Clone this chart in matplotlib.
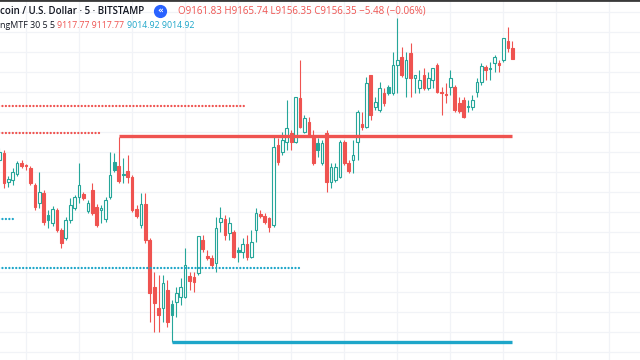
import numpy as np
import matplotlib.pyplot as plt
from matplotlib.lines import Line2D

# 5-minute bars, bar index of the first visible candle
first_bar = -6
opens = [9106, 9109.5, 9095, 9096, 9099, 9104.5, 9103.5, 9102, 9093.5, 9084.5,
         9089.5, 9078.5, 9074.5, 9081, 9071, 9067, 9076, 9082, 9087.5, 9089,
         9080.5, 9091, 9082.5, 9081, 9076.5, 9087.5, 9105, 9103, 9099, 9100.5,
         9097.5, 9081.5, 9073.5, 9084, 9066, 9042.5, 9032, 9032, 9041, 9034,
         9035, 9037.5, 9037.5, 9048, 9047.5, 9049.5, 9066, 9058, 9057, 9054.5,
         9075, 9076.5, 9069.5, 9070, 9061, 9060, 9064, 9057.5, 9071, 9079,
         9078, 9077, 9073.5, 9113.5, 9110, 9115, 9119.5, 9115, 9137, 9120,
         9125, 9117.5, 9114.5, 9104.5, 9119.5, 9095, 9096, 9097.5, 9115, 9104.5,
         9106, 9115, 9124, 9122.5, 9148.5, 9132.5, 9131, 9139.5, 9142.5, 9139.5,
         9153.5, 9157.5, 9147, 9159.5, 9147, 9142, 9148.5, 9142, 9146, 9153.5,
         9140, 9139, 9142.5, 9142.5, 9134.5, 9136, 9133, 9132.5, 9140, 9145,
         9152.5, 9152, 9154.5, 9154.5, 9156, 9165.5, 9161.83]
highs = [9112, 9111, 9098, 9102, 9105.5, 9106, 9104, 9103, 9094.5, 9100,
         9091, 9081, 9083, 9082, 9072, 9077.5, 9087, 9088.5, 9104.5, 9090,
         9086, 9094.5, 9084, 9083.5, 9087.5, 9110, 9109.5, 9117.5, 9107, 9108.5,
         9098.5, 9083.5, 9089.5, 9089.5, 9067, 9050, 9048.5, 9048.5, 9046, 9036,
         9042.5, 9047, 9062, 9050, 9050, 9068, 9068.5, 9061, 9058.5, 9077.5,
         9082.5, 9078.5, 9077.5, 9071, 9062.5, 9067, 9068.5, 9071, 9082, 9081,
         9079.5, 9077.5, 9117.5, 9117, 9120, 9136, 9121, 9137.5, 9156, 9128.5,
         9127.5, 9121, 9117, 9116, 9121, 9104.5, 9104.5, 9116, 9116, 9106,
         9116, 9131, 9130, 9147.5, 9148.5, 9137.5, 9145, 9142, 9143.5, 9160,
         9177, 9162.5, 9160, 9164.5, 9148.5, 9151, 9152, 9150, 9152, 9154.5,
         9142.5, 9144.5, 9151, 9143.5, 9137.5, 9137.5, 9136, 9138.5, 9147, 9154.5,
         9153.5, 9155, 9158.5, 9156, 9167, 9172.5, 9165.74]
lows = [9105, 9092, 9092.5, 9093.5, 9098, 9102, 9101, 9093.5, 9081, 9082,
        9073.5, 9072, 9073, 9070, 9062, 9066, 9074.5, 9081, 9084.5, 9086,
        9079.5, 9078.5, 9072.5, 9074.5, 9075, 9086.5, 9100, 9094.5, 9094.5, 9094.5,
        9080, 9077, 9072, 9064.5, 9025, 9020, 9020, 9025, 9022.5, 9014.92,
        9027.5, 9033.5, 9037, 9041, 9040, 9048.5, 9060, 9056, 9052, 9050,
        9070, 9066, 9066, 9057, 9055, 9057, 9056, 9057, 9065, 9077,
        9074, 9070, 9072.5, 9103.5, 9108.5, 9111, 9111, 9114.5, 9122, 9119.5,
        9117.5, 9103.5, 9107.5, 9103.5, 9090, 9092, 9095, 9097, 9103.5, 9099.5,
        9099.5, 9106, 9121, 9122, 9126, 9131, 9130, 9133, 9138.5, 9138.5,
        9139.5, 9147.5, 9137.5, 9137.5, 9139.5, 9139.5, 9141, 9141, 9142, 9139.5,
        9128.5, 9134.5, 9138.5, 9130, 9129.5, 9127, 9130, 9131, 9137.5, 9143.5,
        9146, 9146, 9150, 9150, 9155, 9160, 9156.35]
closes = [9110, 9094.5, 9096.5, 9100, 9104.5, 9103, 9103, 9094.5, 9082.5, 9090,
          9075, 9076, 9081.5, 9071, 9064.5, 9076, 9083.5, 9087.5, 9093.5, 9087,
          9084.5, 9079.5, 9073.5, 9082, 9086, 9098.5, 9101, 9095.5, 9098.5, 9097.5,
          9081, 9078, 9084, 9066, 9039.5, 9034.5, 9028.5, 9044.5, 9025, 9028.5,
          9039.5, 9042.5, 9053.5, 9045.5, 9045, 9068, 9061.5, 9057, 9053.5, 9072,
          9077, 9068.5, 9074.5, 9057.5, 9060, 9064, 9057.5, 9065, 9079.5, 9078,
          9075, 9072.5, 9112.5, 9105, 9116, 9122, 9115, 9137.5, 9122.5, 9127,
          9118.5, 9104.5, 9111, 9114.5, 9095, 9102.5, 9102.5, 9115, 9104.5, 9100.5,
          9108.5, 9130, 9122.5, 9144.5, 9128.5, 9135, 9142, 9134.5, 9139.5, 9153.5,
          9156, 9148.5, 9156, 9147, 9148.5, 9146, 9142, 9147, 9152, 9140,
          9139.5, 9138.5, 9147, 9131, 9130.5, 9127.5, 9132.5, 9136, 9145, 9153,
          9151, 9151.5, 9157.5, 9153.5, 9167, 9161.83, 9156.35]

# MTF levels: price, first bar, last bar
red_dotted = [(9133, -6, 50), (9119.5, -6, 16.5)]
blue_dotted = [(9076.5, -6, -2.5), (9052, -6, 62)]
red_level = (9117.77, 21, 110)
blue_level = (9014.92, 33, 110)

red = '#ef5350'
teal = '#26a69a'
cyan = '#1ea6c9'
grid_c = '#f1f3f7'

o = np.array(opens); h = np.array(highs); l = np.array(lows); c = np.array(closes)
idx = np.arange(first_bar, first_bar + len(o))
prev = np.r_[c[0], c[:-1]]
up = c >= o
edge = np.where(up | (c > prev), teal, red)
face = np.where(up, 'white', edge)

fig = plt.figure(figsize=(6.4, 3.6), dpi=100)
ax = fig.add_axes([0, 0, 1, 1])
ax.set_xlim(-5.88, 138.9)
ax.set_ylim(9006, 9186)
ax.axis('off')

for p in range(9010, 9190, 10):
    ax.axhline(p, color=grid_c, lw=0.9, zorder=0)
for t in range(0, 140, 12):
    ax.axvline(t, color=grid_c, lw=0.9, zorder=0)

ax.vlines(idx, l, h, colors=edge, lw=0.8, zorder=2)
ax.bar(idx, np.maximum(np.abs(c - o), 0.2), bottom=np.minimum(o, c), width=0.6,
       color=face, edgecolor=edge, linewidth=0.8, zorder=3)

dots = (0, (0.01, 1.45))
for p, a, b in red_dotted:
    ax.plot([a, b], [p, p], color=red, lw=1.7, ls=dots, dash_capstyle='round', zorder=4)
for p, a, b in blue_dotted:
    ax.plot([a, b], [p, p], color=cyan, lw=1.7, ls=dots, dash_capstyle='round', zorder=4)
ax.plot(red_level[1:], [red_level[0]] * 2, color=red, lw=2.4, solid_capstyle='butt', zorder=4)
ax.plot(blue_level[1:], [blue_level[0]] * 2, color=cyan, lw=2.4, solid_capstyle='butt', zorder=4)

# header
fig.add_artist(Line2D([0, 1], [1, 1], transform=fig.transFigure, color='#3a3a3a', lw=2))
fs = 'Open Sans'
fig.text(0.0, 1 - 11 / 360, 'coin / U.S. Dollar · 5 · BITSTAMP', fontsize=7,
         color='#131722', va='center', ha='left', family=fs, weight='semibold')
fig.add_artist(Line2D([160 / 640], [1 - 11 / 360], marker='o', ms=8.5, color='#2962ff',
                      transform=fig.transFigure))
fig.text(160 / 640, 1 - 11.5 / 360, '«', fontsize=6.5, color='white', va='center', ha='center',
         weight='bold')
chg = closes[-1] - closes[-2]
ohlc = 'O%.2f H%.2f L%.2f C%.2f %.2f (%.2f%%)' % (opens[-1], highs[-1], lows[-1], closes[-1],
                                                 chg, chg / closes[-2] * 100)
fig.text(178 / 640, 1 - 11 / 360, ohlc.replace('-', '\u2212'), fontsize=7, color=red,
         va='center', ha='left', family=fs)
fig.text(0.0, 1 - 25 / 360, 'ngMTF 30 5 5', fontsize=6.4, color='#131722', va='center',
         ha='left', family=fs)
fig.text(57 / 640, 1 - 25 / 360, '%.2f %.2f' % (red_level[0], red_level[0]), fontsize=6.3,
         color=red, va='center', ha='left', family=fs)
fig.text(127 / 640, 1 - 25 / 360, '%.2f %.2f' % (blue_level[0], blue_level[0]), fontsize=6.3,
         color=cyan, va='center', ha='left', family=fs)

fig.savefig('out.png', dpi=100)
